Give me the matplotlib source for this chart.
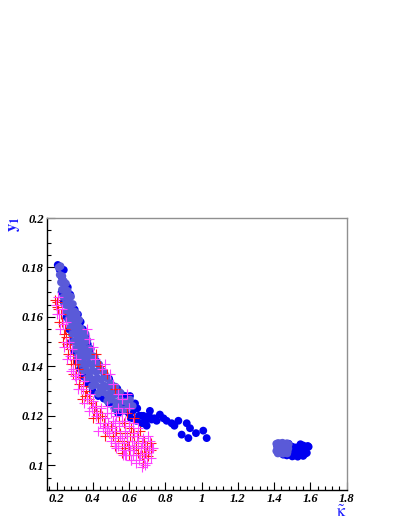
"""Scatter of y1 vs kappa-tilde for the four samples."""
import matplotlib
matplotlib.use("Agg")
import matplotlib.pyplot as plt
from matplotlib.ticker import MultipleLocator

# dark blue circles (full sample)
blue_k = [0.207, 0.218, 0.240, 0.230, 0.249, 0.262,
          0.258, 0.276, 0.285, 0.300, 0.318, 0.333, 0.345, 0.360, 0.372, 0.388,
          0.400, 0.420, 0.440, 0.465, 0.490, 0.510, 0.535, 0.555, 0.580, 0.605,
          0.228, 0.240, 0.255, 0.270, 0.285, 0.300, 0.315, 0.330, 0.345, 0.370,
          0.400, 0.430, 0.460, 0.490, 0.520, 0.540, 0.560,
          0.570, 0.585, 0.600, 0.610, 0.620, 0.633, 0.645, 0.655, 0.640, 0.667,
          0.679, 0.670, 0.690, 0.697, 0.710, 0.715, 0.724, 0.740, 0.752, 0.770,
          0.790, 0.807, 0.835, 0.850, 0.872, 0.890, 0.918, 0.927, 0.936, 0.969,
          1.009, 1.028,
          1.450, 1.470, 1.490, 1.500, 1.510, 1.520, 1.530, 1.540, 1.550, 1.560,
          1.570, 1.585, 1.560, 1.530, 1.550, 1.580, 1.500, 1.520, 1.480, 1.540,
          1.500, 1.570, 1.590, 1.545, 1.560]
blue_y = [0.181, 0.179, 0.179, 0.176, 0.173, 0.172,
          0.170, 0.169, 0.165, 0.163, 0.161, 0.158, 0.155, 0.152, 0.149, 0.147,
          0.144, 0.142, 0.139, 0.137, 0.135, 0.132, 0.131, 0.129, 0.128, 0.128,
          0.170, 0.166, 0.160, 0.155, 0.150, 0.146, 0.142, 0.139, 0.136, 0.133,
          0.130, 0.128, 0.127, 0.125, 0.123, 0.121, 0.122,
          0.124, 0.122, 0.121, 0.119, 0.122, 0.125, 0.123, 0.120, 0.118, 0.120,
          0.120, 0.117, 0.118, 0.116, 0.120, 0.122, 0.1185, 0.119, 0.118, 0.1205,
          0.119, 0.118, 0.117, 0.116, 0.118, 0.1124, 0.117, 0.111, 0.115, 0.113,
          0.114, 0.111,
          0.1043, 0.104, 0.1045, 0.1075, 0.104, 0.106, 0.1045, 0.106, 0.1075, 0.105,
          0.1065, 0.1078, 0.1038, 0.1035, 0.1042, 0.105, 0.1058, 0.1072, 0.1087, 0.1070,
          0.1036, 0.1046, 0.1075, 0.1085, 0.1080]

# light blue circles (subsample)
light_k = [0.212, 0.222, 0.218, 0.232, 0.225, 0.240, 0.252, 0.230, 0.245, 0.262,
           0.238, 0.252, 0.268, 0.280, 0.245, 0.260, 0.275, 0.290,
           0.255, 0.270, 0.285, 0.300, 0.312, 0.265, 0.280, 0.295, 0.310, 0.325,
           0.275, 0.290, 0.305, 0.320, 0.335, 0.285, 0.300, 0.315, 0.330, 0.345, 0.360,
           0.295, 0.310, 0.325, 0.340, 0.355, 0.370, 0.305, 0.320, 0.335, 0.350, 0.365, 0.380,
           0.315, 0.330, 0.345, 0.360, 0.375, 0.392, 0.410,
           0.330, 0.345, 0.360, 0.378, 0.395, 0.415, 0.435,
           0.345, 0.362, 0.380, 0.400, 0.420, 0.440, 0.460,
           0.365, 0.385, 0.405, 0.425, 0.445, 0.465, 0.485,
           0.395, 0.415, 0.440, 0.460, 0.480, 0.505, 0.525,
           0.430, 0.455, 0.480, 0.500, 0.525, 0.550,
           0.480, 0.505, 0.530, 0.555, 0.580, 0.605,
           0.520, 0.545, 0.570, 0.595, 0.620,
           1.412, 1.422, 1.434, 1.446, 1.458, 1.470, 1.480, 1.415, 1.428, 1.440,
           1.452, 1.464, 1.476, 1.418, 1.430, 1.442, 1.455, 1.467, 1.478, 1.412,
           1.425, 1.437, 1.450, 1.462, 1.474, 1.420, 1.433, 1.447, 1.460, 1.472]
light_y = [0.1800, 0.1805, 0.1770, 0.1765, 0.1740, 0.1745, 0.1735, 0.1710, 0.1715, 0.1705,
           0.1680, 0.1688, 0.1675, 0.1682, 0.1650, 0.1655, 0.1646, 0.1652,
           0.1620, 0.1627, 0.1615, 0.1622, 0.1612, 0.1590, 0.1597, 0.1585, 0.1593, 0.1588,
           0.1560, 0.1566, 0.1555, 0.1563, 0.1552, 0.1530, 0.1537, 0.1525, 0.1534, 0.1527, 0.1532,
           0.1500, 0.1506, 0.1495, 0.1503, 0.1497, 0.1505, 0.1470, 0.1476, 0.1465, 0.1473, 0.1467, 0.1472,
           0.1440, 0.1446, 0.1435, 0.1443, 0.1437, 0.1445, 0.1439,
           0.1410, 0.1416, 0.1405, 0.1413, 0.1407, 0.1415, 0.1408,
           0.1380, 0.1386, 0.1375, 0.1383, 0.1377, 0.1385, 0.1378,
           0.1350, 0.1356, 0.1345, 0.1353, 0.1347, 0.1355, 0.1348,
           0.1320, 0.1326, 0.1315, 0.1323, 0.1317, 0.1325, 0.1318,
           0.1290, 0.1296, 0.1285, 0.1293, 0.1287, 0.1295,
           0.1260, 0.1266, 0.1255, 0.1263, 0.1257, 0.1265,
           0.1230, 0.1236, 0.1225, 0.1233, 0.1240,
           0.1087, 0.1090, 0.1088, 0.1091, 0.1086, 0.1089, 0.1085, 0.1078, 0.1080, 0.1077,
           0.1079, 0.1076, 0.1078, 0.1068, 0.1066, 0.1069, 0.1067, 0.1065, 0.1068, 0.1058,
           0.1057, 0.1059, 0.1056, 0.1058, 0.1055, 0.1048, 0.1049, 0.1047, 0.1050, 0.1048]

# red crosses
red_k = [0.192, 0.200, 0.223, 0.210, 0.205, 0.230, 0.247, 0.240, 0.255, 0.274,
         0.265, 0.290, 0.300, 0.320, 0.310, 0.330, 0.325, 0.345, 0.360, 0.355,
         0.380, 0.390, 0.420, 0.405, 0.449, 0.430, 0.460, 0.477, 0.490, 0.510,
         0.522, 0.540, 0.563, 0.580, 0.605, 0.590, 0.620, 0.650, 0.660, 0.640,
         0.678, 0.706, 0.690, 0.670, 0.620, 0.600, 0.550, 0.570, 0.420, 0.440,
         0.476, 0.520, 0.590, 0.630, 0.700, 0.720, 0.680, 0.610,
         0.215, 0.235, 0.260, 0.280, 0.290, 0.340, 0.370, 0.400, 0.440, 0.470,
         0.500, 0.530, 0.560, 0.600, 0.630, 0.650, 0.680, 0.720, 0.580, 0.545]
red_y = [0.167, 0.164, 0.161, 0.163, 0.166, 0.158, 0.155, 0.153, 0.152, 0.147,
         0.145, 0.143, 0.141, 0.139, 0.137, 0.1355, 0.133, 0.132, 0.130, 0.128,
         0.127, 0.125, 0.124, 0.122, 0.120, 0.119, 0.117, 0.115, 0.113, 0.112,
         0.108, 0.110, 0.105, 0.107, 0.112, 0.110, 0.113, 0.112, 0.114, 0.108,
         0.101, 0.1036, 0.105, 0.104, 0.106, 0.104, 0.113, 0.117, 0.145, 0.140,
         0.137, 0.131, 0.121, 0.119, 0.108, 0.106, 0.110, 0.115,
         0.158, 0.150, 0.149, 0.141, 0.137, 0.127, 0.128, 0.119, 0.121, 0.112,
         0.116, 0.114, 0.109, 0.108, 0.110, 0.105, 0.107, 0.109, 0.113, 0.118]

# magenta crosses
mag_k = [0.195, 0.210, 0.215, 0.228, 0.235, 0.250, 0.255, 0.270, 0.275, 0.285,
         0.290, 0.305, 0.310, 0.320, 0.335, 0.345, 0.350, 0.366, 0.395, 0.385,
         0.420, 0.400, 0.440, 0.425, 0.458, 0.445, 0.480, 0.465, 0.490, 0.485,
         0.500, 0.505, 0.530, 0.525, 0.540, 0.545, 0.565, 0.560, 0.570, 0.575,
         0.585, 0.595, 0.600, 0.610, 0.615, 0.625, 0.630, 0.640, 0.650, 0.655,
         0.665, 0.675, 0.685, 0.690, 0.700, 0.710, 0.715, 0.720, 0.705, 0.580,
         0.560, 0.540, 0.620, 0.650, 0.368, 0.380, 0.400, 0.415, 0.450, 0.470,
         0.495, 0.510, 0.540, 0.560, 0.587, 0.600, 0.530, 0.500, 0.480, 0.520,
         0.580, 0.610, 0.640, 0.670, 0.734,
         0.200, 0.220, 0.240, 0.260, 0.280, 0.300, 0.320, 0.350, 0.380, 0.410,
         0.430, 0.470, 0.510, 0.520, 0.550, 0.570, 0.590, 0.620, 0.645, 0.660,
         0.670, 0.690, 0.695, 0.725, 0.630, 0.605, 0.520, 0.560, 0.480]
mag_y = [0.165, 0.168, 0.161, 0.163, 0.157, 0.158, 0.150, 0.150, 0.144, 0.147,
         0.139, 0.143, 0.135, 0.137, 0.131, 0.131, 0.134, 0.127, 0.123, 0.129,
         0.120, 0.126, 0.117, 0.121, 0.115, 0.123, 0.114, 0.119, 0.113, 0.117,
         0.110, 0.115, 0.107, 0.114, 0.108, 0.116, 0.104, 0.111, 0.109, 0.114,
         0.104, 0.108, 0.116, 0.102, 0.110, 0.107, 0.113, 0.104, 0.109, 0.102,
         0.107, 0.111, 0.103, 0.108, 0.101, 0.106, 0.110, 0.103, 0.112, 0.118,
         0.121, 0.123, 0.117, 0.115, 0.155, 0.151, 0.148, 0.143, 0.139, 0.141,
         0.137, 0.133, 0.129, 0.127, 0.129, 0.123, 0.120, 0.121, 0.124, 0.109,
         0.104, 0.102, 0.101, 0.0995, 0.107,
         0.161, 0.155, 0.148, 0.143, 0.138, 0.136, 0.131, 0.125, 0.122, 0.124,
         0.114, 0.116, 0.118, 0.111, 0.112, 0.106, 0.112, 0.104, 0.112, 0.104,
         0.109, 0.100, 0.105, 0.107, 0.108, 0.106, 0.117, 0.118, 0.121]

plt.rcParams["mathtext.fontset"] = "stix"

fig = plt.figure(figsize=(4.09, 5.29), dpi=100)
ax = fig.add_axes([0.1142, 0.0737, 0.7335, 0.5142])

ax.scatter(blue_k, blue_y, s=32, color="#0000f0", edgecolors="none", zorder=2)
ax.scatter(light_k, light_y, s=32, color="#5a5ad8", edgecolors="none", zorder=3)
ax.scatter(red_k, red_y, s=50, marker="+", color="#ff1a1a", linewidths=0.8, zorder=4)
ax.scatter(mag_k, mag_y, s=50, marker="+", color="#ff40ff", linewidths=0.8, zorder=5)

ax.set_xlim(0.146, 1.8)
ax.set_ylim(0.09, 0.2)
ax.xaxis.set_major_locator(MultipleLocator(0.2))
ax.xaxis.set_minor_locator(MultipleLocator(0.04))
ax.yaxis.set_major_locator(MultipleLocator(0.02))
ax.yaxis.set_minor_locator(MultipleLocator(0.005))
ax.tick_params(which="both", direction="in", top=False, right=False, color="black")
ax.tick_params(which="major", length=5.5, width=0.8, pad=2)
ax.tick_params(which="minor", length=3, width=0.8)
ax.set_xticklabels([f"{v:g}" for v in ax.get_xticks()])
ax.set_yticklabels([f"{v:g}" for v in ax.get_yticks()])
for lab in ax.get_xticklabels() + ax.get_yticklabels():
    lab.set_family("Liberation Serif")
    lab.set_weight("bold")
    lab.set_style("italic")
    lab.set_size(9)

for side in ["top", "right"]:
    ax.spines[side].set_color("#909090")
for side in ["left", "bottom"]:
    ax.spines[side].set_color("black")
for sp in ax.spines.values():
    sp.set_linewidth(1.0)

fig.text(12.5 / 409, 1 - 224 / 529, r"$\mathbf{y_1}$", color="#1a1aff",
         rotation=90, ha="center", va="center", fontsize=12)
fig.text(341 / 409, 1 - 517 / 529, r"$\tilde{\mathrm{\kappa}}$", color="#1a1aff",
         ha="center", va="baseline", fontsize=12)

fig.savefig("out.png", dpi=100)
